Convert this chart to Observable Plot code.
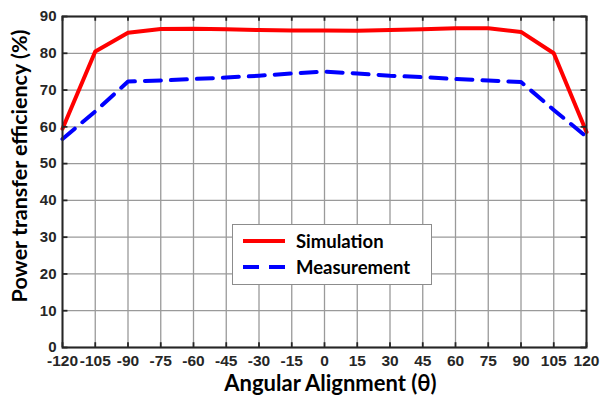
<!DOCTYPE html>
<html>
<head>
<meta charset="utf-8">
<script src="https://cdn.jsdelivr.net/npm/d3@7"></script>
<script src="https://cdn.jsdelivr.net/npm/@observablehq/plot@0.6"></script>
<style>
body{margin:0;background:#fff;}
#wrap{position:relative;width:612px;height:401px;}
#legend{position:absolute;left:232px;top:224px;width:200px;height:61px;border:1px solid #8c8c8c;background:#fff;box-sizing:border-box;font-family:Lato,"Open Sans",sans-serif;font-weight:bold;font-size:18.5px;color:#000;}
#legend .row{position:absolute;left:0;display:flex;align-items:center;}
#legend svg{margin-left:10px;margin-right:11px;}
</style>
</head>
<body>
<div id="wrap"></div>
<script>
const angles = [-120,-105,-90,-75,-60,-45,-30,-15,0,15,30,45,60,75,90,105,120];
const simulation = [59.5,80.5,85.6,86.6,86.7,86.5,86.3,86.2,86.2,86.1,86.3,86.5,86.8,86.8,85.8,80.0,58.6];
const measurement = [56.7,64.2,72.3,72.6,73.0,73.4,73.9,74.5,75.0,74.5,73.9,73.5,73.0,72.6,72.2,64.6,57.3];
const xTicks = angles;
const yTicks = [0,10,20,30,40,50,60,70,80,90];
const seriesNames = ["Simulation","Measurement"];

const sim = angles.map((a,i)=>({a, v: simulation[i]}));
const meas = angles.map((a,i)=>({a, v: measurement[i]}));

const tickFont = "Liberation Sans, Arial, sans-serif";
const titleFont = "Lato, Open Sans, sans-serif";
const chart = Plot.plot({
  width: 612, height: 401,
  marginLeft: 62, marginRight: 26, marginTop: 16, marginBottom: 54,
  style: {fontFamily: tickFont, background: "#fff"},
  x: {domain: [-120,120], ticks: xTicks, label: null},
  y: {domain: [0,90], ticks: yTicks, label: null},
  marks: [
    Plot.gridX(xTicks, {stroke: "#9a9a9a", strokeOpacity: 1, strokeWidth: 1.3}),
    Plot.gridY(yTicks, {stroke: "#9a9a9a", strokeOpacity: 1, strokeWidth: 1.3}),
    Plot.line(sim, {x: "a", y: "v", stroke: "#ff0000", strokeWidth: 4}),
    Plot.line(meas, {x: "a", y: "v", stroke: "#0000ff", strokeWidth: 4, strokeDasharray: "16,10"}),
    Plot.frame({stroke: "#262626", strokeWidth: 2}),
    Plot.ruleX(xTicks, {x: d=>d, y1: 0, y2: 1.3, stroke: "#262626", strokeWidth: 1.8}),
    Plot.ruleX(xTicks, {x: d=>d, y1: 88.7, y2: 90, stroke: "#262626", strokeWidth: 1.8}),
    Plot.ruleY(yTicks, {y: d=>d, x1: -120, x2: -117.5, stroke: "#262626", strokeWidth: 1.8}),
    Plot.ruleY(yTicks, {y: d=>d, x1: 117.5, x2: 120, stroke: "#262626", strokeWidth: 1.8}),
    Plot.axisX(xTicks, {tickSize: 0, tickPadding: 7, fontSize: 15.5, fontWeight: "bold", fill: "#262626", label: null, tickFormat: d => String(d)}),
    Plot.axisY(yTicks, {tickSize: 0, tickPadding: 6, fontSize: 15, fontWeight: "bold", fill: "#262626", label: null, tickFormat: d => String(d)}),
    Plot.text(["Angular Alignment (θ)"], {frameAnchor: "bottom", textAnchor: "middle", dx: 6, dy: 43, fontSize: 22, fontWeight: "bold", fontFamily: titleFont, fill: "#000"}),
    Plot.text(["Power transfer efficiency (%)"], {frameAnchor: "left", textAnchor: "middle", dx: -42, dy: -16, rotate: -90, fontSize: 21.5, fontWeight: "bold", fontFamily: titleFont, fill: "#000"})
  ]
});
const wrap = document.getElementById("wrap");
wrap.appendChild(chart);

const leg = document.createElement("div");
leg.id = "legend";
const styles = [{stroke:"#ff0000", dash:""},{stroke:"#0000ff", dash:"16,10"}];
seriesNames.forEach((name,i)=>{
  const row = document.createElement("div");
  row.className = "row";
  row.style.top = (i===0 ? 5 : 31) + "px";
  row.innerHTML = `<svg width="42" height="20"><line x1="0" x2="42" y1="10" y2="10" stroke="${styles[i].stroke}" stroke-width="4" stroke-dasharray="${styles[i].dash}"/></svg><span>${name}</span>`;
  leg.appendChild(row);
});
wrap.appendChild(leg);
</script>
</body>
</html>
